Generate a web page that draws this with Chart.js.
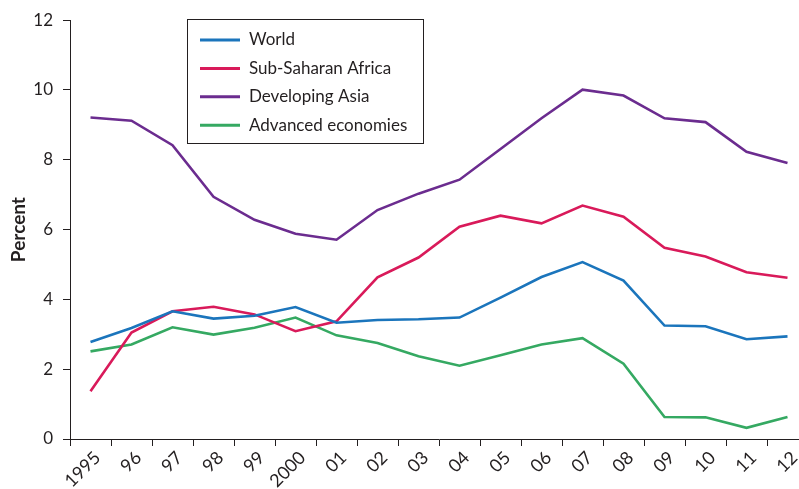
<!DOCTYPE html>
<html>
<head>
<meta charset="utf-8">
<script src="https://cdn.jsdelivr.net/npm/chart.js@4.4.1/dist/chart.umd.min.js"></script>
<style>
  html, body { margin: 0; padding: 0; background: #fff; overflow: hidden; }
  #wrap { width: 808px; height: 489px; }
</style>
</head>
<body>
<div id="wrap"><canvas id="chart" width="808" height="489"></canvas></div>
<script>
// Years on the x axis
const years = ['1995', '96', '97', '98', '99', '2000', '01', '02', '03', '04',
               '05', '06', '07', '08', '09', '10', '11', '12'];

// Series values (percent)
const world = [2.78, 3.18, 3.66, 3.45, 3.53, 3.78, 3.33, 3.41, 3.43, 3.48,
               4.05, 4.64, 5.07, 4.54, 3.25, 3.23, 2.86, 2.94];
const subSaharan = [1.37, 3.05, 3.66, 3.79, 3.57, 3.09, 3.37, 4.63, 5.2, 6.08,
                    6.4, 6.18, 6.69, 6.37, 5.48, 5.23, 4.78, 4.62];
const developingAsia = [9.21, 9.12, 8.42, 6.94, 6.28, 5.88, 5.71, 6.56, 7.03, 7.43,
                        8.31, 9.19, 10.01, 9.84, 9.19, 9.08, 8.23, 7.91];
const advanced = [2.51, 2.71, 3.2, 2.99, 3.19, 3.48, 2.97, 2.75, 2.37, 2.1,
                  2.4, 2.71, 2.89, 2.16, 0.63, 0.62, 0.32, 0.63];

const yTicks = [0, 2, 4, 6, 8, 10, 12];

const ink = '#231f20';
const font = 'Lato';

// Boxed legend at the top left of the plot
const legendBox = {
  id: 'legendBox',
  afterDraw(chart) {
    const ctx = chart.ctx;
    ctx.save();
    ctx.fillStyle = '#fff';
    ctx.fillRect(187.5, 19.5, 236, 124);
    ctx.strokeStyle = ink;
    ctx.lineWidth = 1;
    ctx.strokeRect(187.5, 19.5, 236, 124);
    chart.data.datasets.forEach((ds, i) => {
      const y = 40 + i * 28.4;
      ctx.strokeStyle = ds.borderColor;
      ctx.lineWidth = 3;
      ctx.beginPath();
      ctx.moveTo(200, y);
      ctx.lineTo(240, y);
      ctx.stroke();
      ctx.fillStyle = ink;
      ctx.font = '17px ' + font;
      ctx.textBaseline = 'middle';
      ctx.fillText(ds.label, 249, y);
    });
    ctx.restore();
  }
};

const line = (label, data, color) => ({
  label: label,
  data: data,
  borderColor: color,
  backgroundColor: color,
  borderWidth: 2.6,
  pointRadius: 0,
  tension: 0,
  fill: false
});

new Chart(document.getElementById('chart'), {
  type: 'line',
  data: {
    labels: years,
    datasets: [
      line('World', world, '#1b75bc'),
      line('Sub-Saharan Africa', subSaharan, '#d91a5a'),
      line('Developing Asia', developingAsia, '#6b2c8f'),
      line('Advanced economies', advanced, '#35a962')
    ]
  },
  options: {
    responsive: false,
    animation: false,
    layout: { padding: { top: 19, right: 0, bottom: 0, left: 0 } },
    plugins: {
      legend: { display: false },
      tooltip: { enabled: false }
    },
    scales: {
      x: {
        offset: true,
        grid: { display: true, offset: true, drawOnChartArea: false, drawTicks: true, tickLength: 7, color: ink },
        border: { display: true, color: ink, width: 1 },
        ticks: {
          color: ink,
          font: { family: font, size: 18 },
          minRotation: 45,
          maxRotation: 45,
          autoSkip: false,
          padding: 1,
          labelOffset: 7
        },
        afterFit: scale => { scale.height = 50; }
      },
      y: {
        min: 0,
        max: 12,
        afterBuildTicks: scale => { scale.ticks = yTicks.map(v => ({ value: v })); },
        grid: { display: true, drawOnChartArea: false, drawTicks: true, tickLength: 7, color: ink },
        border: { display: true, color: ink, width: 1 },
        ticks: {
          color: ink,
          font: { family: font, size: 17 },
          padding: 10
        },
        title: {
          display: true,
          text: 'Percent',
          color: ink,
          font: { family: font, size: 19, weight: 'bold' },
          padding: { top: 7, bottom: 0 }
        },
        afterFit: scale => { scale.width = 70; }
      }
    }
  },
  plugins: [legendBox]
});
</script>
</body>
</html>
